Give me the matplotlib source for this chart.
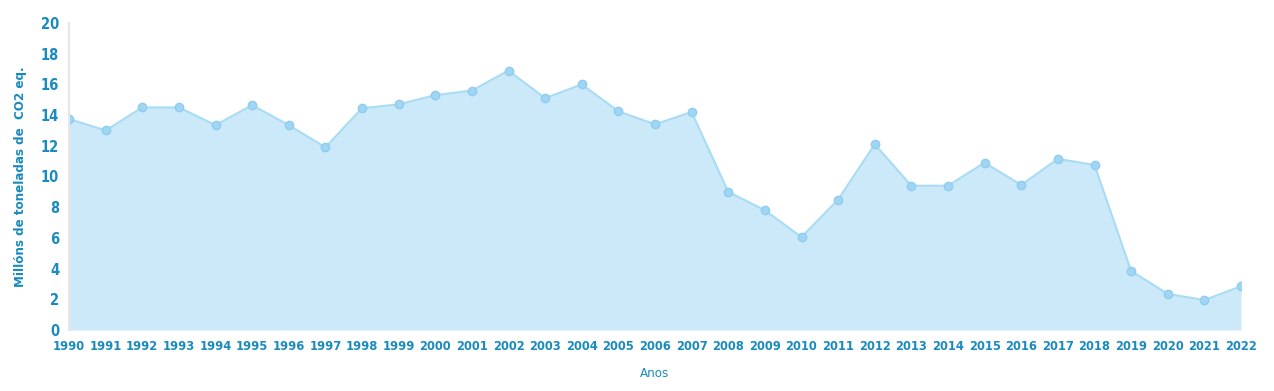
import matplotlib
matplotlib.use("Agg")
import matplotlib.pyplot as plt

# Emisións por ano (millóns de toneladas de CO2 eq.)
years = list(range(1990, 2023))
values = [13.75, 13.0, 14.5, 14.5, 13.35, 14.65, 13.35, 11.9, 14.45, 14.7,
          15.3, 15.6, 16.9, 15.1, 16.0, 14.25, 13.4, 14.2, 9.0, 7.8,
          6.05, 8.5, 12.1, 9.4, 9.4, 10.9, 9.45, 11.15, 10.75, 3.85,
          2.35, 1.95, 2.85]
y_ticks = list(range(0, 21, 2))

text_color = "#1a8bbf"
plt.rcParams["font.family"] = ["DejaVu Sans"]
plt.rcParams["font.stretch"] = "condensed"

fig = plt.figure(figsize=(12.74, 3.91), dpi=100)
ax = fig.add_axes([69 / 1274, 61 / 391, (1241 - 69) / 1274, (330 - 23) / 391])

ax.fill_between(years, values, 0, color="#cce9f9", linewidth=0)
ax.plot(years, values, color="#a8dcf5", linewidth=1.5, marker="o", markersize=6,
        markerfacecolor="#a0d6f3", markeredgecolor="#8fcdf0", markeredgewidth=1)

ax.set_xlim(1990, 2022)
ax.set_ylim(0, 20)
ax.set_xticks(years)
ax.set_xticklabels([str(y) for y in years])
ax.set_yticks(y_ticks)

for s in ["top", "right", "bottom"]:
    ax.spines[s].set_visible(False)
ax.spines["left"].set_color("#e6e6e6")
ax.spines["left"].set_linewidth(1.5)
ax.tick_params(length=0, colors=text_color, pad=7)
ax.tick_params(axis="x", labelsize=9.3)
ax.tick_params(axis="y", labelsize=10.5)
for lbl in ax.get_xticklabels() + ax.get_yticklabels():
    lbl.set_fontweight("bold")

ax.set_xlabel("Anos", color=text_color, fontsize=9.5, labelpad=10)
ax.set_ylabel("Millóns de toneladas de  CO2 eq.", color=text_color, fontsize=9.5,
              fontweight="bold", labelpad=10)

plt.savefig("out.png", dpi=100)
